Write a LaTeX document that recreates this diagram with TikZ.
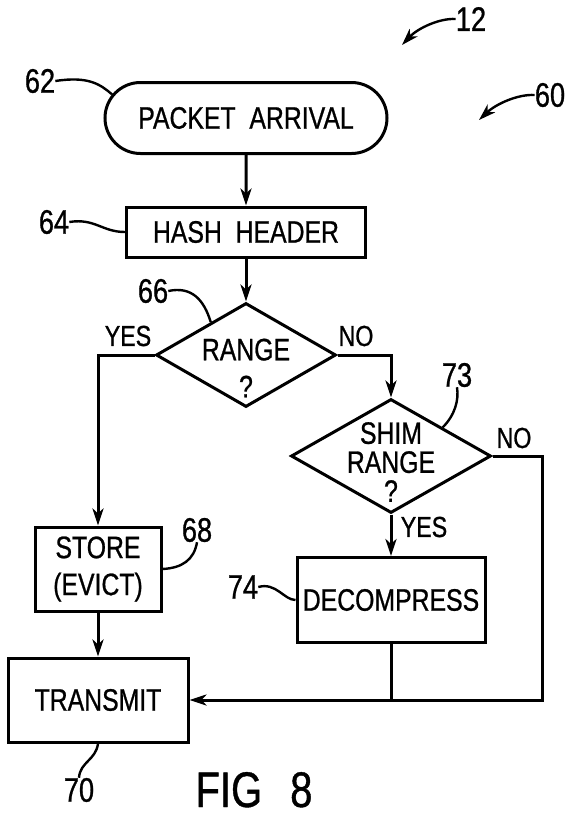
\documentclass[tikz,border=0pt]{standalone}
\usepackage{fontspec}
\setmainfont{Liberation Sans}[FakeStretch=0.8,FakeBold=0.8]
\usetikzlibrary{shapes.geometric,shapes.misc,arrows.meta}

\tikzset{
  box/.style={draw,line width=3pt,inner sep=0pt,font=\fontsize{31}{37}\selectfont,align=center},
  term/.style={box,rounded rectangle},
  decision/.style={draw,line width=3pt,diamond,inner sep=0pt},
  txt/.style={font=\fontsize{31}{37}\selectfont,align=center,inner sep=0pt},
  ans/.style={font=\fontsize{29}{30}\selectfont,inner sep=0pt},
  num/.style={font=\fontsize{34}{36}\selectfont,inner sep=0pt},
  flow/.style={line width=3pt,-{Stealth[length=17pt,width=11pt,inset=5pt]}},
  lead/.style={line width=2.4pt},
}

\begin{document}
\begin{tikzpicture}[x=1pt,y=-1pt]
  \useasboundingbox (0,0) rectangle (567,814);
  % boxes
  \node[term,minimum width=282pt,minimum height=71pt] (arrival) at (246,118) {PACKET\ \ ARRIVAL};
  \node[box,minimum width=239pt,minimum height=50pt] (hash) at (246,232) {HASH\ \ HEADER};
  \node[decision,minimum width=180pt,minimum height=104pt] (range) at (246,355) {};
  \node[txt] (rangeq) at (246,368) {RANGE\\?};
  \node[decision,minimum width=200pt,minimum height=114pt] (shim) at (391,456) {};
  \node[txt,font=\fontsize{31}{29}\selectfont] (shimq) at (391,462) {SHIM\\RANGE\\?};
  \node[box,minimum width=126pt,minimum height=84pt] (store) at (98,569) {STORE\\(EVICT)};
  \node[box,minimum width=188pt,minimum height=85pt] (decompress) at (391,600) {DECOMPRESS};
  \node[box,minimum width=180pt,minimum height=84pt] (transmit) at (98,700) {TRANSMIT};
  \coordinate (bypass) at (542,700);
  % flow
  \draw[flow] (arrival) -- (hash);
  \draw[flow] (hash) -- (range);
  \draw[flow] (range.west) -| (store);
  \draw[flow] (range.east) -| (shim);
  \draw[flow] (shim) -- (decompress);
  \draw[flow] (store) -- (transmit);
  \draw[flow] (shim.east) -| (bypass) -- (transmit.east);
  \draw[line width=3pt] (decompress) -- (decompress |- transmit.east);
  \node[ans] (yes1) at (128,336) {YES};
  \node[ans] (no1) at (356,336) {NO};
  \node[ans] (no2) at (514,438) {NO};
  \node[ans] (yes2) at (424,527) {YES};
  % reference numerals
  \node[num] (n62) at (40,81) {62};
  \draw[lead] (n62.east) .. controls (88,76) and (100,84) .. (arrival.170);
  \node[num] (n64) at (54,222) {64};
  \draw[lead] (n64.east) .. controls (95,218) and (102,232) .. (hash.west);
  \node[num] (n66) at (153,291) {66};
  \draw[lead] (n66.east) .. controls (192,286) and (204,300) .. (range.137);
  \node[num] (n73) at (457,375) {73};
  \draw[lead] (n73.south) .. controls (459,400) and (455,415) .. (shim.29);
  \node[num] (n68) at (197,530) {68};
  \draw[lead] (n68.south) .. controls (194,560) and (182,568) .. (store.east);
  \node[num] (n74) at (243,587) {74};
  \draw[lead] (n74.east) .. controls (276,582) and (284,600) .. (decompress.west);
  \node[num] (n70) at (79,790) {70};
  \draw[lead] (transmit.south) .. controls (96,760) and (80,762) .. (n70.north);
  \node[num] (n12) at (471,19) {12};
  \coordinate (tip12) at (402,45);
  \draw[flow,line width=2.4pt] (n12.west) .. controls (440,18) and (418,28) .. (tip12);
  \node[num] (n60) at (550,95) {60};
  \coordinate (tip60) at (479,120);
  \draw[flow,line width=2.4pt] (n60.west) .. controls (518,94) and (496,104) .. (tip60);
  \node[font=\fontsize{50}{56}\selectfont,inner sep=0pt,anchor=base] (fig) at (254,807) {FIG\hspace{28pt}8};
\end{tikzpicture}
\end{document}
